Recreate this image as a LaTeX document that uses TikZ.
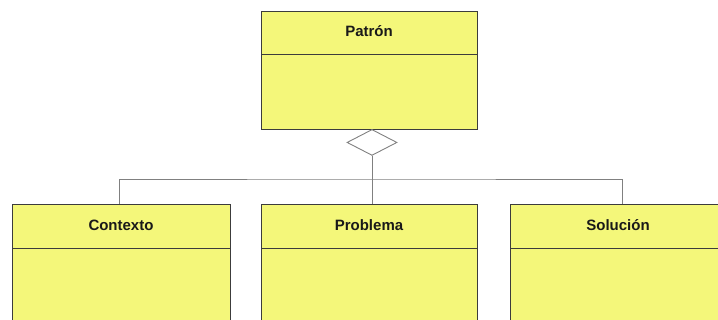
\documentclass[tikz,border=0pt]{standalone}
\usepackage{fontspec}
\setmainfont{Liberation Sans}
\usetikzlibrary{shapes.geometric}
\definecolor{boxfill}{RGB}{244,247,122}
\definecolor{conn}{RGB}{128,128,128}
\definecolor{edge}{RGB}{60,60,60}
\tikzset{
  box/.style={draw=edge, line width=0.9pt, fill=boxfill},
  sep/.style={draw=edge, line width=0.9pt},
  title/.style={font=\bfseries\fontsize{15}{18}\selectfont, text=black!90},
  link/.style={draw=conn, line width=0.9pt},
  agg/.style={diamond, draw=conn, fill=white, line width=0.9pt, minimum width=50pt, minimum height=26pt, inner sep=0pt, aspect=1.9}
}
\begin{document}
\begin{tikzpicture}[x=1pt,y=-1pt]
\useasboundingbox (0,0) rectangle (718,320);
\clip (0,0) rectangle (718,320);
% Patron
\path[box] (261,11) rectangle (477,129);
\draw[sep] (261,54) -- (477,54);
\node[title] (patron) at (369,31) {Patrón};
\coordinate (pbot) at (372,129);
% children
\path[box] (12,204) rectangle (230,340);
\draw[sep] (12,248) -- (230,248);
\node[title] (contexto) at (121,225) {Contexto};
\coordinate (ctop) at (119,204);

\path[box] (261,204) rectangle (477,340);
\draw[sep] (261,248) -- (477,248);
\node[title] (problema) at (369,225) {Problema};
\coordinate (ptop) at (372,204);

\path[box] (510,204) rectangle (728,340);
\draw[sep] (510,248) -- (728,248);
\node[title] (solucion) at (618,225) {Solución};
\coordinate (stop) at (622,204);

% aggregation
\node[agg, anchor=north] (dia) at (pbot) {};
\coordinate (junc) at (372,179);
\draw[link] (dia.south) -- (junc);
\draw[link] (ctop) |- (junc) -| (stop);
\draw[link] (junc) -- (ptop);
\end{tikzpicture}
\end{document}
